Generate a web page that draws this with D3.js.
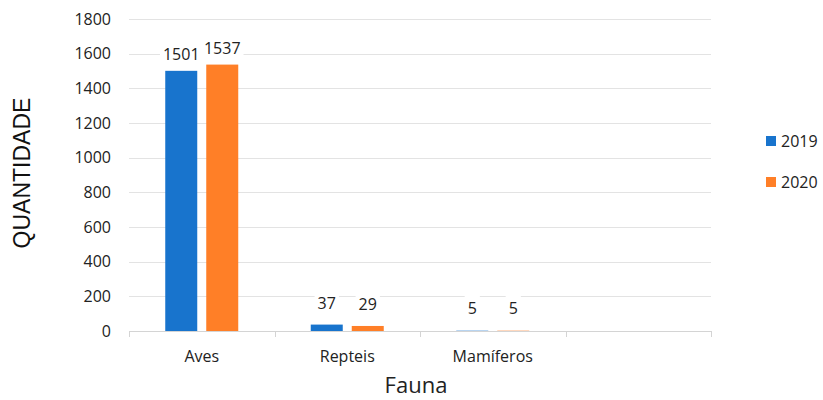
<!DOCTYPE html>
<html><head><meta charset="utf-8">
<script src="https://cdn.jsdelivr.net/npm/d3@7"></script>
<style>body{margin:0;background:#fff}svg{display:block}</style>
</head><body>
<svg id="c" width="823" height="400"></svg>
<script>
const categories = ["Aves", "Repteis", "Mamíferos", ""];
const series = ["2019", "2020"];
const values2019 = [1501, 37, 5, null];
const values2020 = [1537, 29, 5, null];
const yTicks = [0, 200, 400, 600, 800, 1000, 1200, 1400, 1600, 1800];
const colors = ["#1874CD", "#FF7F27"];

const svg = d3.select("#c");
const font = "'Open Sans', sans-serif";
const x = d3.scaleBand().domain(categories).range([129, 711]).padding(0);
const y = d3.scaleLinear().domain([0, 1800]).range([331, 19]);
const xs = d3.scaleBand().domain(series).range([-36.5, 36.5]).paddingInner(9 / 41).paddingOuter(0);

// gridlines
svg.append("g").selectAll("line").data(yTicks.filter(d => d > 0)).join("line")
  .attr("x1", 129).attr("x2", 711)
  .attr("y1", d => Math.round(y(d)) + 0.5).attr("y2", d => Math.round(y(d)) + 0.5)
  .attr("stroke", "#e3e3e3").attr("stroke-width", 1);

// y tick labels
svg.append("g").selectAll("text").data(yTicks).join("text")
  .attr("x", 111).attr("y", d => y(d)).attr("dy", "0.36em")
  .attr("text-anchor", "end").attr("font-family", font).attr("font-size", 16).attr("fill", "#222")
  .text(d => d);

// bars
const data = [];
categories.forEach((c, i) => {
  [values2019, values2020].forEach((arr, j) => {
    if (arr[i] != null) data.push({ c, s: series[j], v: arr[i], j });
  });
});
const cx = c => x(c) + x.bandwidth() / 2;
svg.append("g").selectAll("rect").data(data).join("rect")
  .attr("x", d => cx(d.c) + xs(d.s))
  .attr("width", xs.bandwidth())
  .attr("y", d => y(d.v))
  .attr("height", d => y(0) - y(d.v))
  .attr("fill", d => colors[d.j])
  .attr("fill-opacity", d => d.v < 10 ? 0.35 : 1);

// x axis
const xa = svg.append("g");
xa.append("line").attr("x1", 129).attr("x2", 711).attr("y1", 331.5).attr("y2", 331.5).attr("stroke", "#d4d4d4");
const bounds = categories.map(c => x(c)).concat([x.range()[1]]);
xa.selectAll("line.t").data(bounds).join("line").attr("class", "t")
  .attr("x1", d => Math.round(d) + 0.5).attr("x2", d => Math.round(d) + 0.5)
  .attr("y1", 331).attr("y2", 337).attr("stroke", "#d4d4d4");
xa.selectAll("text").data(categories).join("text")
  .attr("x", d => cx(d)).attr("y", 362)
  .attr("text-anchor", "middle").attr("font-family", font).attr("font-size", 16).attr("fill", "#222")
  .text(d => d);

// data labels with white background
const lg = svg.append("g");
data.forEach(d => {
  const off = d.v > 100 ? 11 : 16;
  const lx = cx(d.c) + xs(d.s) + xs.bandwidth() / 2;
  const ly = y(d.v) - off;
  const t = lg.append("text").attr("x", lx).attr("y", ly)
    .attr("text-anchor", "middle").attr("font-family", font).attr("font-size", 16).attr("fill", "#222")
    .text(d.v);
  const bb = t.node().getBBox();
  lg.insert("rect", "text").attr("x", bb.x - 3).attr("y", bb.y - 2).attr("width", bb.width + 6).attr("height", bb.height + 2).attr("fill", "#fff");
});

// axis titles
svg.append("text").attr("transform", "translate(30,173) rotate(-90)")
  .attr("text-anchor", "middle").attr("font-family", "'Liberation Sans', Arial, sans-serif")
  .attr("font-size", 23).attr("fill", "#111").text("QUANTIDADE");
svg.append("text").attr("x", 416).attr("y", 393).attr("text-anchor", "middle")
  .attr("font-family", font).attr("font-size", 22).attr("fill", "#222").text("Fauna");

// legend
const leg = svg.append("g");
series.forEach((s, i) => {
  const ly = 136 + i * 41;
  leg.append("rect").attr("x", 766).attr("y", ly).attr("width", 10).attr("height", 10).attr("fill", colors[i]);
  leg.append("text").attr("x", 781).attr("y", ly + 5).attr("dy", "0.36em")
    .attr("font-family", font).attr("font-size", 16).attr("fill", "#222").text(s);
});
</script>
</body></html>
